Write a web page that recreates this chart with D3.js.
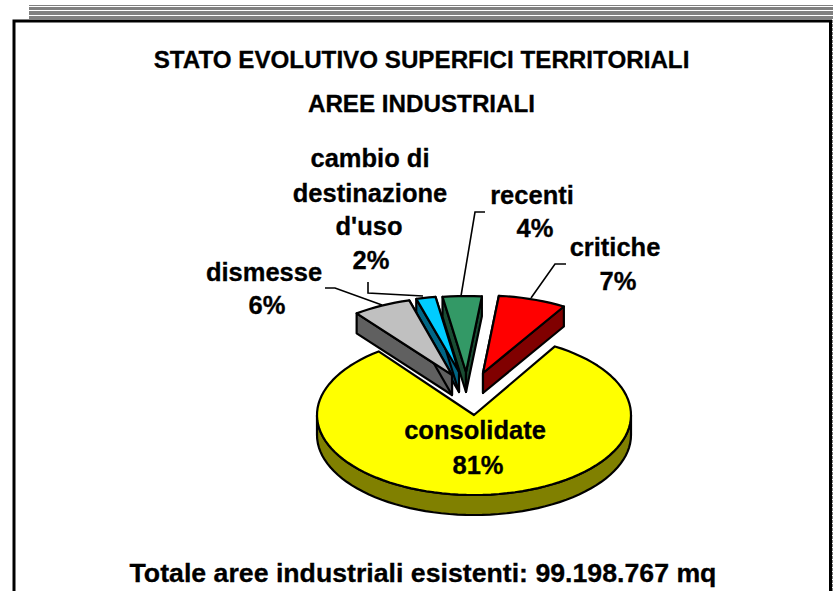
<!DOCTYPE html>
<html><head><meta charset="utf-8">
<script src="https://cdn.jsdelivr.net/npm/d3@7"></script>
<style>html,body{margin:0;padding:0;background:#fff}svg{display:block}
text{font-family:"Liberation Sans",Arial,sans-serif;font-weight:bold;fill:#000;stroke:#000;stroke-width:.3px}</style>
</head><body><div id="c"></div>
<script>
const categories=["consolidate","dismesse","cambio di destinazione d'uso","recenti","critiche"];
const shares=[81,6,2,4,7];
const topColors=["#ffff00","#c0c0c0","#00ccff","#339966","#ff0000"];
const sideColors=["#808000","#606060","#006685","#1a4d33","#800000"];
const titleLines=["STATO EVOLUTIVO SUPERFICI TERRITORIALI","AREE INDUSTRIALI"];
const footer="Totale aree industriali esistenti: 99.198.767 mq";

const W=833,H=591;
const svg=d3.select("#c").append("svg").attr("width",W).attr("height",H);

// header rules
[[5,1],[7,3],[11,4],[16,3]].forEach(([y,h])=>svg.append("rect").attr("x",29).attr("y",y).attr("width",W-29).attr("height",h).attr("fill","#808080"));
// right-hand dotted edge
svg.append("line").attr("x1",832.5).attr("x2",832.5).attr("y1",20).attr("y2",H).attr("stroke","#808080").attr("stroke-dasharray","3 1");
// frame
svg.append("path").attr("d",`M14,${H+3}V21H830.5V${H+3}`).attr("fill","none").attr("stroke","#000").attr("stroke-width",3);

titleLines.forEach((t,i)=>svg.append("text").attr("x",421.5).attr("y",[68,112][i]).attr("text-anchor","middle").attr("font-size",24.2).text(t));
svg.append("text").attr("x",423).attr("y",582).attr("text-anchor","middle").attr("font-size",26.7).text(footer);

// pie geometry
const rx=157,ry=80,depth=20;
const start=31*Math.PI/180;
const arcs=d3.pie().sort(null).value(d=>d).startAngle(start).endAngle(start+2*Math.PI)(shares);
// exploded apex of each slice on the page, and the squash of its rim
const apex=[[474,415],[452,375],[459,372],[466,372],[483,373]];
const squash=[1,.97,.95,.95,.97];
const rimPoints=(a,b,cx,cy,dy,k)=>{
  const n=Math.max(2,Math.ceil(Math.abs(b-a)/(Math.PI/60)));
  return d3.range(n+1).map(i=>{const t=a+(b-a)*i/n;return [cx+rx*Math.sin(t),cy-ry*k*Math.cos(t)+dy];});
};
const line=d3.line();
const g=svg.append("g").attr("stroke","#000").attr("stroke-width",2.2).attr("stroke-linejoin","round");
[0,4,3,2,1].forEach(i=>{
  const d=arcs[i],[cx,cy]=apex[i],k=squash[i];
  const pts=rimPoints(d.startAngle,d.endAngle,cx,cy,0,k);
  const first=pts[0],last=pts[pts.length-1];
  if(i!==0)[first,last].forEach(p=>{
    g.append("path").attr("fill",sideColors[i]).attr("d",line([[cx,cy],p,[p[0],p[1]+depth],[cx,cy+depth]])+"Z");
  });
  const lo=Math.max(d.startAngle,Math.PI/2),hi=Math.min(d.endAngle,3*Math.PI/2);
  if(hi>lo){
    const rim=rimPoints(lo,hi,cx,cy,0,k),low=rimPoints(hi,lo,cx,cy,depth,k);
    g.append("path").attr("fill",sideColors[i]).attr("d",line(rim.concat(low))+"Z");
  }
  g.append("path").attr("fill",topColors[i]).attr("d",line([[cx,cy]].concat(pts))+"Z");
});

// leader lines
[[[325,288],[335,288],[382,305]],[[368,282],[368,293],[423,296]],[[485,212],[475,212],[461,296]],[[566,264],[555,264],[531,298]]]
 .forEach(p=>svg.append("path").attr("d",line(p)).attr("fill","none").attr("stroke","#000").attr("stroke-width",1.6));

// labels
const labels=[
 {xs:[475,478],ys:[439,474],t:["consolidate","81%"]},
 {xs:[264,267],ys:[281,314],t:["dismesse","6%"]},
 {xs:[370,370,369,371],ys:[167,202,235,269],t:["cambio di","destinazione","d'uso","2%"]},
 {xs:[532,535],ys:[204,237],t:["recenti","4%"]},
 {xs:[615,618],ys:[256,290],t:["critiche","7%"]}];
labels.forEach(l=>l.t.forEach((s,j)=>svg.append("text").attr("x",l.xs[j]).attr("y",l.ys[j]).attr("text-anchor","middle").attr("font-size",25.5).text(s)));
</script></body></html>
